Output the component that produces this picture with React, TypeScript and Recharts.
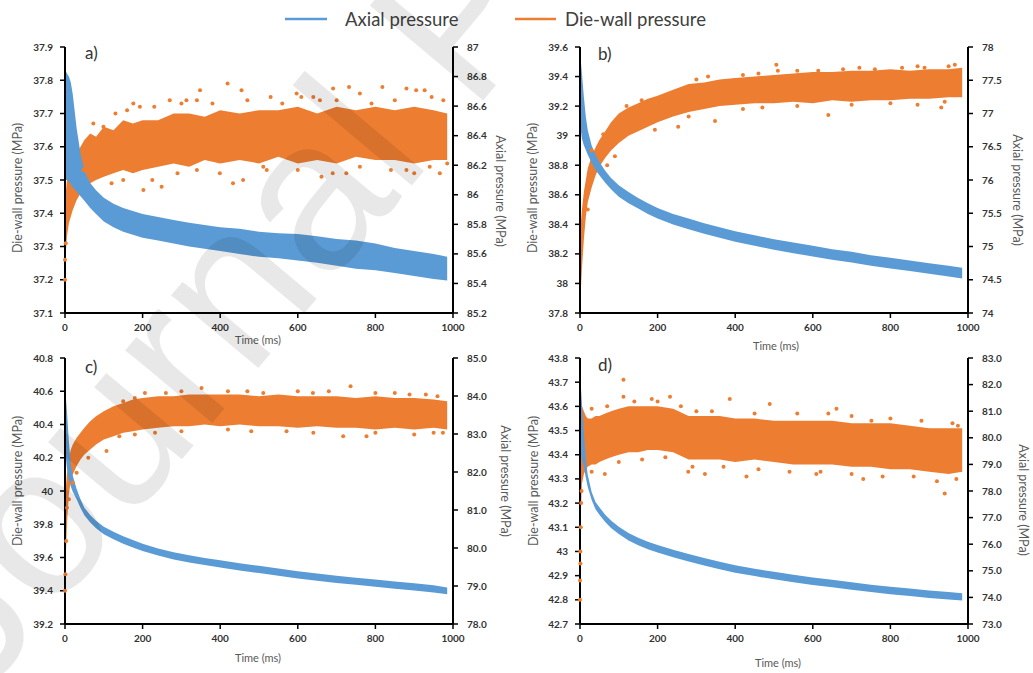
import React from "react";
import { ComposedChart, Area, Scatter, XAxis, YAxis } from "recharts";

const ORANGE = "#ED7D31";
const BLUE = "#5B9BD5";
const FONT = "Lato, 'Open Sans', sans-serif";

// sampled time positions (ms), shared by every panel
const timeMs = [0, 2, 5, 10, 15, 20, 30, 40, 50, 65, 80, 100, 125, 150, 175, 200, 240, 280, 320, 360, 400, 450, 500, 550, 600, 650, 700, 750, 800, 850, 900, 950, 985];
const timeTicks = [0, 200, 400, 600, 800, 1000];

// panel a) - die-wall band (left axis), axial band (right axis), stray die-wall readings
const dieWallLowA = [37.2, 37.28, 37.33, 37.37, 37.39, 37.41, 37.44, 37.46, 37.48, 37.49, 37.5, 37.51, 37.52, 37.53, 37.52, 37.53, 37.54, 37.55, 37.54, 37.56, 37.55, 37.56, 37.55, 37.57, 37.55, 37.56, 37.55, 37.57, 37.56, 37.56, 37.55, 37.56, 37.56];
const dieWallHighA = [37.34, 37.46, 37.5, 37.53, 37.55, 37.56, 37.58, 37.6, 37.62, 37.64, 37.63, 37.66, 37.65, 37.68, 37.67, 37.68, 37.68, 37.7, 37.7, 37.69, 37.71, 37.7, 37.71, 37.71, 37.72, 37.7, 37.72, 37.71, 37.72, 37.71, 37.72, 37.71, 37.7];
const axialLowA = [86.1, 86.1, 86.1, 86.09, 86.07, 86.05, 86.02, 85.99, 85.96, 85.91, 85.87, 85.82, 85.78, 85.75, 85.73, 85.71, 85.69, 85.67, 85.65, 85.635, 85.62, 85.6, 85.58, 85.57, 85.555, 85.54, 85.52, 85.5, 85.49, 85.47, 85.45, 85.43, 85.42];
const axialHighA = [86.84, 86.84, 86.82, 86.8, 86.76, 86.68, 86.45, 86.28, 86.16, 86.08, 86.03, 85.98, 85.94, 85.91, 85.89, 85.87, 85.85, 85.83, 85.81, 85.795, 85.78, 85.77, 85.75, 85.74, 85.735, 85.72, 85.7, 85.69, 85.67, 85.64, 85.62, 85.6, 85.58];
const strayTimeA = [0, 0, 2, 47, 73, 99, 120, 130, 150, 160, 176, 193, 202, 225, 230, 249, 270, 290, 300, 313, 340, 340, 348, 380, 399, 419, 433, 455, 459, 470, 511, 520, 530, 560, 597, 600, 609, 640, 657, 661, 690, 691, 700, 725, 732, 760, 760, 790, 818, 840, 850, 880, 880, 900, 905, 927, 940, 945, 966, 975, 985];
const strayDieWallA = [37.2, 37.26, 37.31, 37.53, 37.67, 37.66, 37.49, 37.7, 37.5, 37.71, 37.73, 37.72, 37.47, 37.5, 37.72, 37.48, 37.74, 37.52, 37.73, 37.74, 37.74, 37.53, 37.77, 37.73, 37.52, 37.79, 37.49, 37.77, 37.5, 37.74, 37.54, 37.53, 37.75, 37.73, 37.76, 37.53, 37.75, 37.75, 37.74, 37.51, 37.52, 37.775, 37.74, 37.52, 37.78, 37.76, 37.54, 37.73, 37.78, 37.53, 37.74, 37.775, 37.53, 37.52, 37.77, 37.77, 37.54, 37.75, 37.52, 37.74, 37.55];
const leftTicksA = [37.1, 37.2, 37.3, 37.4, 37.5, 37.6, 37.7, 37.8, 37.9];
const rightTicksA = [85.2, 85.4, 85.6, 85.8, 86, 86.2, 86.4, 86.6, 86.8, 87];

// panel b)
const dieWallLowB = [37.85, 37.95, 38.1, 38.3, 38.45, 38.55, 38.65, 38.73, 38.79, 38.85, 38.9, 38.95, 39.0, 39.03, 39.06, 39.09, 39.13, 39.16, 39.18, 39.2, 39.21, 39.22, 39.22, 39.23, 39.22, 39.24, 39.23, 39.24, 39.24, 39.25, 39.25, 39.26, 39.26];
const dieWallHighB = [38.25, 38.4, 38.5, 38.62, 38.7, 38.78, 38.86, 38.92, 38.97, 39.03, 39.09, 39.15, 39.19, 39.22, 39.25, 39.27, 39.31, 39.35, 39.36, 39.38, 39.39, 39.4, 39.41, 39.42, 39.43, 39.43, 39.44, 39.44, 39.45, 39.44, 39.45, 39.45, 39.46];
const axialLowB = [76.9, 76.75, 76.62, 76.52, 76.45, 76.38, 76.26, 76.15, 76.07, 75.96, 75.86, 75.75, 75.65, 75.57, 75.49, 75.42, 75.33, 75.26, 75.19, 75.13, 75.07, 75.01, 74.95, 74.9, 74.85, 74.8, 74.76, 74.71, 74.67, 74.63, 74.59, 74.55, 74.52];
const axialHighB = [77.88, 77.8, 77.6, 77.25, 76.95, 76.75, 76.52, 76.38, 76.27, 76.14, 76.03, 75.92, 75.82, 75.73, 75.65, 75.58, 75.49, 75.42, 75.35, 75.29, 75.23, 75.17, 75.11, 75.06, 75.01, 74.96, 74.92, 74.87, 74.83, 74.79, 74.75, 74.71, 74.68];
const strayTimeB = [20, 30, 60, 70, 90, 120, 159, 193, 253, 280, 300, 330, 348, 420, 420, 460, 470, 506, 510, 560, 560, 614, 640, 678, 700, 720, 760, 800, 830, 870, 870, 888, 931, 940, 950, 966];
const strayDieWallB = [38.5, 38.9, 39.01, 38.8, 38.86, 39.2, 39.24, 39.04, 39.06, 39.13, 39.38, 39.4, 39.1, 39.41, 39.18, 39.42, 39.19, 39.48, 39.44, 39.44, 39.2, 39.44, 39.14, 39.45, 39.21, 39.46, 39.45, 39.22, 39.46, 39.47, 39.21, 39.46, 39.19, 39.23, 39.47, 39.48];
const leftTicksB = [37.8, 38, 38.2, 38.4, 38.6, 38.8, 39, 39.2, 39.4, 39.6];
const rightTicksB = [74, 74.5, 75, 75.5, 76, 76.5, 77, 77.5, 78];

// panel c)
const dieWallLowC = [39.35, 39.6, 39.8, 39.98, 40.06, 40.1, 40.15, 40.19, 40.22, 40.25, 40.28, 40.31, 40.33, 40.35, 40.36, 40.37, 40.38, 40.39, 40.39, 40.4, 40.39, 40.4, 40.39, 40.39, 40.38, 40.39, 40.38, 40.38, 40.37, 40.38, 40.37, 40.38, 40.37];
const dieWallHighC = [39.95, 40.02, 40.1, 40.2, 40.25, 40.28, 40.32, 40.35, 40.38, 40.42, 40.45, 40.48, 40.51, 40.53, 40.55, 40.56, 40.57, 40.57, 40.58, 40.58, 40.58, 40.58, 40.57, 40.58, 40.57, 40.57, 40.57, 40.56, 40.57, 40.56, 40.56, 40.55, 40.54];
const axialLowC = [82.6, 82.4, 82.1, 81.8, 81.62, 81.48, 81.28, 81.05, 80.86, 80.67, 80.52, 80.36, 80.23, 80.11, 80.01, 79.92, 79.8, 79.7, 79.62, 79.55, 79.49, 79.41, 79.34, 79.27, 79.2, 79.14, 79.08, 79.03, 78.98, 78.93, 78.88, 78.83, 78.78];
const axialHighC = [84.1, 84.0, 83.6, 82.8, 82.2, 81.9, 81.55, 81.28, 81.06, 80.87, 80.72, 80.56, 80.43, 80.31, 80.21, 80.11, 79.99, 79.89, 79.81, 79.74, 79.68, 79.6, 79.53, 79.46, 79.39, 79.33, 79.27, 79.22, 79.17, 79.12, 79.07, 79.02, 78.96];
const strayTimeC = [0, 1, 3, 5, 10, 20, 30, 60, 107, 140, 150, 180, 180, 206, 232, 260, 300, 300, 352, 420, 420, 470, 480, 511, 571, 600, 639, 640, 680, 717, 736, 777, 800, 800, 850, 888, 900, 930, 950, 960, 974];
const strayDieWallC = [39.4, 39.5, 39.7, 39.9, 39.95, 40.05, 40.11, 40.2, 40.24, 40.33, 40.54, 40.56, 40.34, 40.59, 40.35, 40.59, 40.6, 40.36, 40.62, 40.6, 40.37, 40.6, 40.36, 40.59, 40.36, 40.6, 40.59, 40.35, 40.6, 40.33, 40.63, 40.33, 40.59, 40.35, 40.59, 40.58, 40.34, 40.58, 40.35, 40.57, 40.35];
const leftTicksC = [39.2, 39.4, 39.6, 39.8, 40, 40.2, 40.4, 40.6, 40.8];
const rightTicksC = [78, 79, 80, 81, 82, 83, 84, 85];

// panel d)
const dieWallLowD = [42.8, 43.15, 43.28, 43.32, 43.34, 43.35, 43.36, 43.36, 43.37, 43.38, 43.39, 43.4, 43.41, 43.41, 43.42, 43.42, 43.41, 43.38, 43.38, 43.38, 43.37, 43.38, 43.37, 43.36, 43.36, 43.36, 43.35, 43.35, 43.34, 43.34, 43.33, 43.32, 43.33];
const dieWallHighD = [43.6, 43.61, 43.6, 43.58, 43.56, 43.55, 43.55, 43.56, 43.56, 43.57, 43.58, 43.59, 43.6, 43.6, 43.6, 43.6, 43.59, 43.56, 43.56, 43.56, 43.55, 43.55, 43.54, 43.54, 43.54, 43.54, 43.53, 43.53, 43.53, 43.52, 43.51, 43.51, 43.51];
const axialLowD = [79.8, 79.5, 79.2, 78.9, 78.5, 78.15, 77.66, 77.31, 77.11, 76.83, 76.61, 76.38, 76.14, 75.96, 75.81, 75.69, 75.51, 75.35, 75.2, 75.06, 74.93, 74.8, 74.68, 74.57, 74.47, 74.38, 74.29, 74.2, 74.12, 74.05, 73.98, 73.92, 73.88];
const axialHighD = [82.1, 82.0, 81.3, 80.2, 79.2, 78.6, 77.96, 77.59, 77.39, 77.11, 76.89, 76.66, 76.42, 76.24, 76.09, 75.97, 75.79, 75.63, 75.48, 75.34, 75.21, 75.08, 74.96, 74.85, 74.75, 74.66, 74.57, 74.48, 74.4, 74.33, 74.26, 74.2, 74.16];
const strayTimeD = [0, 0, 1, 1, 2, 3, 4, 30, 30, 64, 70, 100, 112, 112, 140, 160, 185, 200, 220, 232, 260, 279, 290, 300, 322, 340, 370, 386, 429, 450, 460, 489, 540, 560, 609, 620, 640, 661, 700, 700, 730, 751, 780, 800, 860, 880, 920, 940, 960, 970, 974];
const strayDieWallD = [42.8, 42.88, 42.95, 43.0, 43.1, 43.2, 43.25, 43.59, 43.33, 43.32, 43.6, 43.37, 43.71, 43.64, 43.62, 43.38, 43.63, 43.62, 43.39, 43.64, 43.6, 43.33, 43.35, 43.58, 43.32, 43.58, 43.35, 43.63, 43.31, 43.57, 43.34, 43.61, 43.33, 43.57, 43.32, 43.33, 43.57, 43.59, 43.56, 43.32, 43.3, 43.54, 43.31, 43.55, 43.31, 43.54, 43.29, 43.24, 43.53, 43.3, 43.52];
const leftTicksD = [42.7, 42.8, 42.9, 43, 43.1, 43.2, 43.3, 43.4, 43.5, 43.6, 43.7, 43.8];
const rightTicksD = [73, 74, 75, 76, 77, 78, 79, 80, 81, 82, 83];

const tickStyle = { fontSize: 10, fontWeight: 700, fill: "#333", fontFamily: FONT };
const axisLine = { stroke: "#000", strokeWidth: 2 };
const tickLine = { stroke: "#000", strokeWidth: 1.5 };

const dot = (props: any) => <circle cx={props.cx} cy={props.cy} r={2} fill={ORANGE} />;

type PanelProps = {
  left: number;
  top: number;
  dwLow: number[];
  dwHigh: number[];
  axLow: number[];
  axHigh: number[];
  strayT: number[];
  strayV: number[];
  leftTicks: number[];
  rightTicks: number[];
  rightFmt: (v: number) => string;
};

function Panel(p: PanelProps) {
  const rows = timeMs.map((t, i) => ({
    t,
    dieWall: [p.dwLow[i], p.dwHigh[i]],
    axial: [p.axLow[i], p.axHigh[i]],
  }));
  const stray = p.strayT.map((t, i) => ({ t, dieWall: p.strayV[i] }));
  const lt = p.leftTicks;
  const rt = p.rightTicks;
  return (
    <div style={{ position: "absolute", left: p.left, top: p.top }}>
      <ComposedChart width={520} height={345} data={rows} margin={{ top: 47, right: 17, bottom: 0, left: 15 }}>
        <XAxis type="number" dataKey="t" domain={[0, 1000]} ticks={timeTicks} interval={0}
          height={32} tickSize={5} tickMargin={6} axisLine={axisLine} tickLine={tickLine} tick={tickStyle} />
        <YAxis yAxisId="dw" domain={[lt[0], lt[lt.length - 1]]} ticks={lt} interval={0} allowDataOverflow
          width={50} tickSize={5} tickMargin={7} axisLine={axisLine} tickLine={tickLine} tick={tickStyle} />
        <YAxis yAxisId="ax" orientation="right" domain={[rt[0], rt[rt.length - 1]]} ticks={rt} interval={0} allowDataOverflow
          width={50} tickSize={5} tickMargin={9} axisLine={axisLine} tickLine={tickLine} tick={tickStyle}
          tickFormatter={p.rightFmt} />
        <Area yAxisId="dw" type="linear" dataKey="dieWall" stroke="none" fill={ORANGE} fillOpacity={1} isAnimationActive={false} />
        <Scatter yAxisId="dw" data={stray} dataKey="dieWall" shape={dot} isAnimationActive={false} />
        <Area yAxisId="ax" type="linear" dataKey="axial" stroke="none" fill={BLUE} fillOpacity={1} isAnimationActive={false} />
      </ComposedChart>
    </div>
  );
}

const plain = (v: number) => String(v);
const oneDecimal = (v: number) => v.toFixed(1);

const titleStyle = { fontSize: 12.5, fill: "#595959", fontFamily: FONT };
const tagStyle = { fontSize: 17, fill: "#333", fontFamily: FONT };

export default function App() {
  return (
    <div style={{ position: "absolute", left: 0, top: 0, width: 1033, height: 673, background: "#fff", overflow: "hidden" }}>
      <Panel left={0} top={0} dwLow={dieWallLowA} dwHigh={dieWallHighA} axLow={axialLowA} axHigh={axialHighA}
        strayT={strayTimeA} strayV={strayDieWallA} leftTicks={leftTicksA} rightTicks={rightTicksA} rightFmt={plain} />
      <Panel left={515} top={0} dwLow={dieWallLowB} dwHigh={dieWallHighB} axLow={axialLowB} axHigh={axialHighB}
        strayT={strayTimeB} strayV={strayDieWallB} leftTicks={leftTicksB} rightTicks={rightTicksB} rightFmt={plain} />
      <Panel left={0} top={311} dwLow={dieWallLowC} dwHigh={dieWallHighC} axLow={axialLowC} axHigh={axialHighC}
        strayT={strayTimeC} strayV={strayDieWallC} leftTicks={leftTicksC} rightTicks={rightTicksC} rightFmt={oneDecimal} />
      <Panel left={515} top={311} dwLow={dieWallLowD} dwHigh={dieWallHighD} axLow={axialLowD} axHigh={axialHighD}
        strayT={strayTimeD} strayV={strayDieWallD} leftTicks={leftTicksD} rightTicks={rightTicksD} rightFmt={oneDecimal} />

      <svg width={1033} height={673} style={{ position: "absolute", left: 0, top: 0, pointerEvents: "none" }}>
        {/* legend */}
        <line x1={285} y1={19} x2={327} y2={19} stroke={BLUE} strokeWidth={2.5} />
        <text x={345} y={19} dominantBaseline="central" fontSize={18.5} fill="#404040" fontFamily={FONT}>Axial pressure</text>
        <line x1={515} y1={19} x2={556} y2={19} stroke={ORANGE} strokeWidth={2.5} />
        <text x={565} y={19} dominantBaseline="central" fontSize={18.5} fill="#404040" fontFamily={FONT}>Die-wall pressure</text>

        {/* panel tags */}
        <text x={85} y={59} {...tagStyle}>a)</text>
        <text x={598} y={60} {...tagStyle}>b)</text>
        <text x={85} y={373} {...tagStyle}>c)</text>
        <text x={598} y={371} {...tagStyle}>d)</text>

        {/* axis titles */}
        <text transform="translate(17,188) rotate(-90)" textAnchor="middle" dominantBaseline="central" {...titleStyle}>Die-wall pressure (MPa)</text>
        <text transform="translate(500,191) rotate(90)" textAnchor="middle" dominantBaseline="central" {...titleStyle}>Axial pressure (MPa)</text>
        <text transform="translate(532,188) rotate(-90)" textAnchor="middle" dominantBaseline="central" {...titleStyle}>Die-wall pressure (MPa)</text>
        <text transform="translate(1017,190) rotate(90)" textAnchor="middle" dominantBaseline="central" {...titleStyle}>Axial pressure (MPa)</text>
        <text transform="translate(17,481) rotate(-90)" textAnchor="middle" dominantBaseline="central" {...titleStyle}>Die-wall pressure (MPa)</text>
        <text transform="translate(505,481) rotate(90)" textAnchor="middle" dominantBaseline="central" {...titleStyle}>Axial pressure (MPa)</text>
        <text transform="translate(533,481) rotate(-90)" textAnchor="middle" dominantBaseline="central" {...titleStyle}>Die-wall pressure (MPa)</text>
        <text transform="translate(1023,500) rotate(90)" textAnchor="middle" dominantBaseline="central" {...titleStyle}>Axial pressure (MPa)</text>
        <text x={258} y={339} textAnchor="middle" dominantBaseline="central" {...titleStyle} fontSize={11}>Time (ms)</text>
        <text x={776} y={345} textAnchor="middle" dominantBaseline="central" {...titleStyle} fontSize={11}>Time (ms)</text>
        <text x={258} y={657} textAnchor="middle" dominantBaseline="central" {...titleStyle} fontSize={11}>Time (ms)</text>
        <text x={778} y={662} textAnchor="middle" dominantBaseline="central" {...titleStyle} fontSize={11}>Time (ms)</text>

        {/* watermark, clipped by the picture edge as in the source */}
        <text transform="translate(-20,700) rotate(-50)" fontSize={215} fontFamily="'Liberation Sans', sans-serif"
          fill="#000" fillOpacity={0.09}>Journal Pre-proof</text>
      </svg>
    </div>
  );
}
